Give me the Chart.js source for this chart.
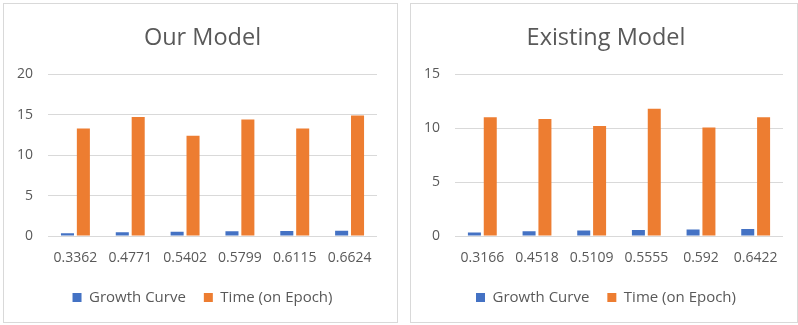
<!DOCTYPE html>
<html>
<head>
<meta charset="utf-8">
<script src="https://cdn.jsdelivr.net/npm/chart.js@4"></script>
<style>
  body { margin: 0; background: #fff; }
  .box { position: absolute; top: 3px; height: 318px; border: 1px solid #d9d9d9; background: #fff; }
  #boxA { left: 3px; width: 393px; }
  #boxB { left: 410px; width: 386px; }
</style>
</head>
<body>
<div class="box" id="boxA"><canvas id="ourChart"></canvas></div>
<div class="box" id="boxB"><canvas id="existingChart"></canvas></div>
<script>
// data
const ourLabels = ['0.3362', '0.4771', '0.5402', '0.5799', '0.6115', '0.6624'];
const ourGrowth = [0.3362, 0.4771, 0.5402, 0.5799, 0.6115, 0.6624];
const ourTime = [13.3, 14.7, 12.4, 14.4, 13.3, 14.9];

const existingLabels = ['0.3166', '0.4518', '0.5109', '0.5555', '0.592', '0.6422'];
const existingGrowth = [0.3166, 0.4518, 0.5109, 0.5555, 0.592, 0.6422];
const existingTime = [11.0, 10.85, 10.2, 11.8, 10.05, 11.0];

const textColor = '#595959';
const fontFamily = "'Open Sans', sans-serif";

function makeChart(id, title, labels, growth, time, yMax, yStep, rightGap) {
    const ctx = document.getElementById(id).getContext('2d');
    return new Chart(ctx, {
        type: 'bar',
        data: {
            labels: labels,
            datasets: [{
                label: 'Growth Curve',
                data: growth,
                backgroundColor: '#4472C4',
                categoryPercentage: 0.58,
                barPercentage: 0.82,
            }, {
                label: 'Time (on Epoch)',
                data: time,
                backgroundColor: '#ED7D31',
                categoryPercentage: 0.58,
                barPercentage: 0.82,
            }]
        },
        options: {
            responsive: true,
            maintainAspectRatio: false,
            animation: false,
            layout: { padding: { left: 4, right: 0, top: 0, bottom: 7 } },
            plugins: {
                title: {
                    display: true,
                    text: title,
                    color: textColor,
                    font: { family: fontFamily, size: 23.5, weight: 'normal' },
                    padding: { top: 20, bottom: 22 },
                },
                legend: {
                    position: 'bottom',
                    labels: {
                        color: textColor,
                        font: { family: fontFamily, size: 15 },
                        boxWidth: 9,
                        boxHeight: 9,
                        padding: 18,
                    },
                },
                tooltip: { enabled: false },
            },
            scales: {
                x: {
                    grid: { display: false, drawTicks: false },
                    border: { display: false },
                    ticks: { color: textColor, font: { family: fontFamily, size: 14 }, padding: 14, maxRotation: 0 },
                    afterFit: (scale) => { scale.height = 36; },
                },
                y: {
                    min: 0,
                    max: yMax,
                    grid: { color: '#d9d9d9', drawTicks: false },
                    border: { display: false },
                    ticks: { stepSize: yStep, color: textColor, font: { family: fontFamily, size: 14 }, padding: 15 },
                    afterFit: (scale) => { scale.width = 40; },
                },
                // empty right axis only to keep space on the right of the plot
                gap: {
                    position: 'right',
                    min: 0,
                    max: yMax,
                    grid: { display: false, drawTicks: false },
                    border: { display: false },
                    ticks: { display: false },
                    afterFit: (scale) => { scale.width = rightGap; },
                },
            },
        },
    });
}

makeChart('ourChart', 'Our Model', ourLabels, ourGrowth, ourTime, 20, 5, 20);
makeChart('existingChart', 'Existing Model', existingLabels, existingGrowth, existingTime, 15, 5, 14);
</script>
</body>
</html>
